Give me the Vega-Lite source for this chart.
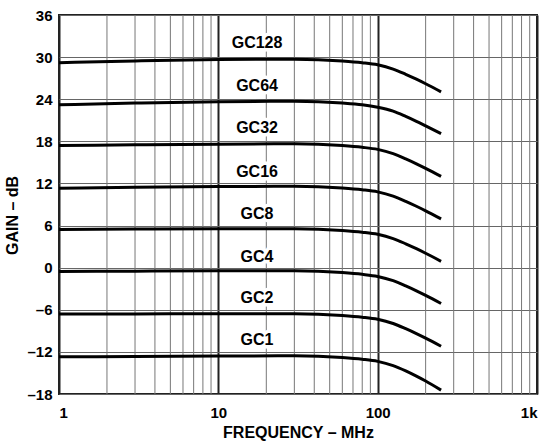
{
  "$schema": "https://vega.github.io/schema/vega-lite/v6.json",
  "width": 478,
  "height": 379,
  "autosize": {"type": "none"},
  "padding": {"left": 59, "top": 15, "right": 10, "bottom": 49},
  "background": "white",
  "config": {
    "view": {"stroke": "#222", "strokeWidth": 2},
    "font": "Liberation Sans",
    "axis": {
      "domain": false,
      "ticks": false,
      "tickSize": 0,
      "labelFont": "Liberation Sans",
      "labelFontWeight": "bold",
      "labelFontSize": 15,
      "labelColor": "#000",
      "titleFont": "Liberation Sans",
      "titleFontWeight": "bold",
      "titleFontSize": 16,
      "titleColor": "#000"
    }
  },
  "datasets": {
    "curves": [
      {"c": "GC128", "f": 1, "g": 29.2}, {"c": "GC128", "f": 3, "g": 29.45}, {"c": "GC128", "f": 10, "g": 29.65}, {"c": "GC128", "f": 30, "g": 29.7}, {"c": "GC128", "f": 60, "g": 29.45}, {"c": "GC128", "f": 80, "g": 29.2}, {"c": "GC128", "f": 100, "g": 28.9}, {"c": "GC128", "f": 125, "g": 28.3}, {"c": "GC128", "f": 150, "g": 27.55}, {"c": "GC128", "f": 175, "g": 26.85}, {"c": "GC128", "f": 200, "g": 26.2}, {"c": "GC128", "f": 250, "g": 25.05},
      {"c": "GC64", "f": 1, "g": 23.2}, {"c": "GC64", "f": 3, "g": 23.45}, {"c": "GC64", "f": 10, "g": 23.65}, {"c": "GC64", "f": 30, "g": 23.7}, {"c": "GC64", "f": 60, "g": 23.45}, {"c": "GC64", "f": 80, "g": 23.2}, {"c": "GC64", "f": 100, "g": 22.85}, {"c": "GC64", "f": 125, "g": 22.3}, {"c": "GC64", "f": 150, "g": 21.55}, {"c": "GC64", "f": 175, "g": 20.85}, {"c": "GC64", "f": 200, "g": 20.2}, {"c": "GC64", "f": 250, "g": 19.1},
      {"c": "GC32", "f": 1, "g": 17.4}, {"c": "GC32", "f": 3, "g": 17.5}, {"c": "GC32", "f": 10, "g": 17.6}, {"c": "GC32", "f": 30, "g": 17.65}, {"c": "GC32", "f": 60, "g": 17.4}, {"c": "GC32", "f": 80, "g": 17.15}, {"c": "GC32", "f": 100, "g": 16.85}, {"c": "GC32", "f": 125, "g": 16.25}, {"c": "GC32", "f": 150, "g": 15.5}, {"c": "GC32", "f": 175, "g": 14.8}, {"c": "GC32", "f": 200, "g": 14.15}, {"c": "GC32", "f": 250, "g": 13.0},
      {"c": "GC16", "f": 1, "g": 11.3}, {"c": "GC16", "f": 3, "g": 11.45}, {"c": "GC16", "f": 10, "g": 11.55}, {"c": "GC16", "f": 30, "g": 11.6}, {"c": "GC16", "f": 60, "g": 11.35}, {"c": "GC16", "f": 80, "g": 11.1}, {"c": "GC16", "f": 100, "g": 10.8}, {"c": "GC16", "f": 125, "g": 10.2}, {"c": "GC16", "f": 150, "g": 9.45}, {"c": "GC16", "f": 175, "g": 8.75}, {"c": "GC16", "f": 200, "g": 8.1}, {"c": "GC16", "f": 250, "g": 6.95},
      {"c": "GC8", "f": 1, "g": 5.45}, {"c": "GC8", "f": 3, "g": 5.5}, {"c": "GC8", "f": 10, "g": 5.55}, {"c": "GC8", "f": 30, "g": 5.55}, {"c": "GC8", "f": 60, "g": 5.3}, {"c": "GC8", "f": 80, "g": 5.05}, {"c": "GC8", "f": 100, "g": 4.75}, {"c": "GC8", "f": 125, "g": 4.15}, {"c": "GC8", "f": 150, "g": 3.4}, {"c": "GC8", "f": 175, "g": 2.7}, {"c": "GC8", "f": 200, "g": 2.05}, {"c": "GC8", "f": 250, "g": 0.9},
      {"c": "GC4", "f": 1, "g": -0.55}, {"c": "GC4", "f": 3, "g": -0.5}, {"c": "GC4", "f": 10, "g": -0.45}, {"c": "GC4", "f": 30, "g": -0.45}, {"c": "GC4", "f": 60, "g": -0.7}, {"c": "GC4", "f": 80, "g": -0.95}, {"c": "GC4", "f": 100, "g": -1.25}, {"c": "GC4", "f": 125, "g": -1.85}, {"c": "GC4", "f": 150, "g": -2.6}, {"c": "GC4", "f": 175, "g": -3.3}, {"c": "GC4", "f": 200, "g": -3.95}, {"c": "GC4", "f": 250, "g": -5.1},
      {"c": "GC2", "f": 1, "g": -6.6}, {"c": "GC2", "f": 3, "g": -6.6}, {"c": "GC2", "f": 10, "g": -6.55}, {"c": "GC2", "f": 30, "g": -6.55}, {"c": "GC2", "f": 60, "g": -6.8}, {"c": "GC2", "f": 80, "g": -7.05}, {"c": "GC2", "f": 100, "g": -7.35}, {"c": "GC2", "f": 125, "g": -7.95}, {"c": "GC2", "f": 150, "g": -8.7}, {"c": "GC2", "f": 175, "g": -9.4}, {"c": "GC2", "f": 200, "g": -10.05}, {"c": "GC2", "f": 250, "g": -11.2},
      {"c": "GC1", "f": 1, "g": -12.7}, {"c": "GC1", "f": 3, "g": -12.65}, {"c": "GC1", "f": 10, "g": -12.6}, {"c": "GC1", "f": 30, "g": -12.55}, {"c": "GC1", "f": 60, "g": -12.8}, {"c": "GC1", "f": 80, "g": -13.05}, {"c": "GC1", "f": 100, "g": -13.35}, {"c": "GC1", "f": 125, "g": -13.95}, {"c": "GC1", "f": 150, "g": -14.7}, {"c": "GC1", "f": 175, "g": -15.45}, {"c": "GC1", "f": 200, "g": -16.15}, {"c": "GC1", "f": 250, "g": -17.45}
    ],
    "minor": [
      {"f": 2}, {"f": 3}, {"f": 4}, {"f": 5}, {"f": 6}, {"f": 7}, {"f": 8}, {"f": 9},
      {"f": 20}, {"f": 30}, {"f": 40}, {"f": 50}, {"f": 60}, {"f": 70}, {"f": 80}, {"f": 90},
      {"f": 200}, {"f": 300}, {"f": 400}, {"f": 500}, {"f": 600}, {"f": 700}, {"f": 800}, {"f": 900}
    ],
    "labels": [
      {"c": "GC128", "f": 17.5, "g": 32.0},
      {"c": "GC64", "f": 17.5, "g": 25.9},
      {"c": "GC32", "f": 17.5, "g": 19.95},
      {"c": "GC16", "f": 17.5, "g": 13.7},
      {"c": "GC8", "f": 17.5, "g": 7.65},
      {"c": "GC4", "f": 17.5, "g": 1.57},
      {"c": "GC2", "f": 17.5, "g": -4.36},
      {"c": "GC1", "f": 17.5, "g": -10.3}
    ]
  },
  "encoding": {
    "x": {
      "field": "f", "type": "quantitative",
      "scale": {"type": "log", "domain": [1, 1000], "nice": false},
      "axis": {
        "title": "FREQUENCY – MHz",
        "values": [1, 10, 100, 1000],
        "labelExpr": "datum.value >= 1000 ? '1k' : datum.label",
        "labelPadding": 11,
        "grid": true, "gridColor": "#222", "gridWidth": 2,
        "titleY": 43, "titleBaseline": "alphabetic"
      }
    }
  },
  "layer": [
    {
      "data": {"name": "minor"},
      "mark": {"type": "rule", "color": "#777", "strokeWidth": 1},
      "encoding": {}
    },
    {
      "data": {"name": "curves"},
      "mark": {"type": "line", "color": "#000", "strokeWidth": 3, "interpolate": "monotone"},
      "encoding": {
        "y": {
          "field": "g", "type": "quantitative",
          "scale": {"domain": [-18, 36], "nice": false, "zero": false},
          "axis": {
            "title": "GAIN – dB",
            "values": [-18, -12, -6, 0, 6, 12, 18, 24, 30, 36],
            "labelExpr": "datum.value < 0 ? '–' + abs(datum.value) : datum.label",
            "labelPadding": 7,
            "grid": true, "gridColor": "#666", "gridWidth": 1.2,
            "titleX": -42, "titleY": 200, "titleBaseline": "alphabetic"
          }
        },
        "detail": {"field": "c", "type": "nominal"}
      }
    },
    {
      "data": {"name": "labels"},
      "mark": {"type": "text", "fontSize": 16, "fontWeight": "bold", "fill": "white", "stroke": "white", "strokeWidth": 7, "strokeJoin": "round", "baseline": "middle", "align": "center"},
      "encoding": {
        "y": {"field": "g", "type": "quantitative"},
        "text": {"field": "c"}
      }
    },
    {
      "data": {"name": "labels"},
      "mark": {"type": "text", "fontSize": 16, "fontWeight": "bold", "color": "#000", "baseline": "middle", "align": "center"},
      "encoding": {
        "y": {"field": "g", "type": "quantitative"},
        "text": {"field": "c"}
      }
    }
  ]
}
